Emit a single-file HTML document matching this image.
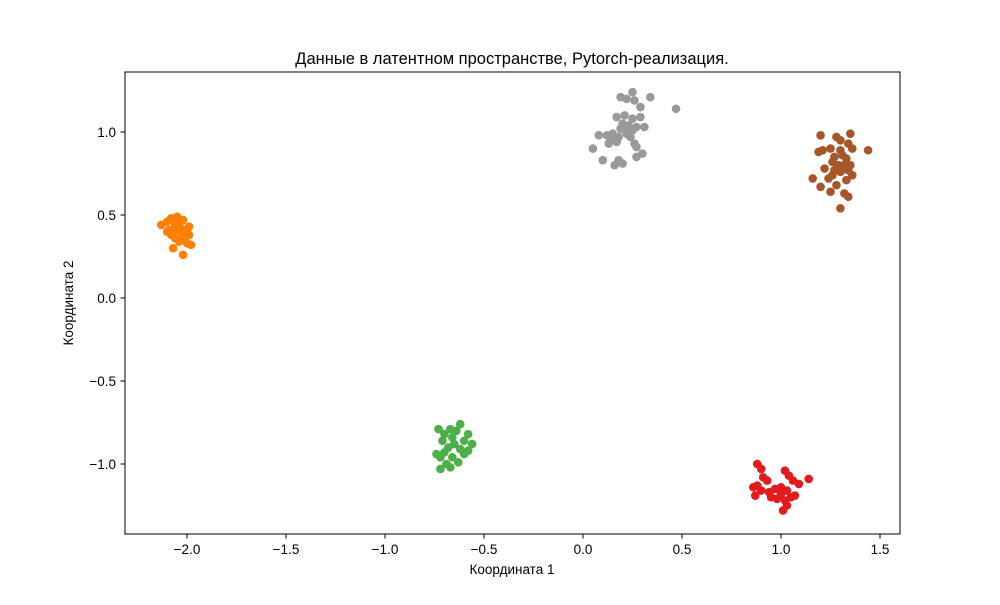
<!DOCTYPE html>
<html><head><meta charset="utf-8"><style>body{margin:0;background:#fff}svg text{font-family:"Liberation Sans","DejaVu Sans",sans-serif}</style></head>
<body>
<svg id="chart" width="1000" height="600">
<rect x="0" y="0" width="1000" height="600" fill="#fff"/>
<text x="512" y="64" text-anchor="middle" font-size="16.5">Данные в латентном пространстве, Pytorch-реализация.</text>
<g id="marks"></g>
<rect x="125" y="72" width="775" height="462" fill="none" stroke="#000" stroke-width="1"/>
<g id="axes"></g>
<text x="512" y="574" text-anchor="middle" font-size="13.5">Координата 1</text>
<text transform="translate(73,303) rotate(-90)" text-anchor="middle" font-size="13.5">Координата 2</text>
</svg>
<script>
const xTicks=[-2.0,-1.5,-1.0,-0.5,0.0,0.5,1.0,1.5];
const yTicks=[-1.0,-0.5,0.0,0.5,1.0];
const grayPts=[[0.25,1.24],[0.22,1.2],[0.19,1.21],[0.26,1.19],[0.34,1.21],[0.47,1.14],[0.29,1.15],[0.17,1.09],[0.21,1.1],[0.25,1.08],[0.29,1.09],[0.2,1.05],[0.23,1.04],[0.27,1.03],[0.31,1.03],[0.25,1.01],[0.12,0.98],[0.15,0.99],[0.18,0.97],[0.22,0.99],[0.19,1.02],[0.08,0.98],[0.14,0.96],[0.17,0.94],[0.13,0.93],[0.05,0.9],[0.26,0.93],[0.27,0.91],[0.3,0.87],[0.27,0.85],[0.1,0.83],[0.18,0.83],[0.2,0.81],[0.16,0.8],[0.22,1.0],[0.24,0.97]];
const brownPts=[[1.2,0.98],[1.28,0.97],[1.35,0.99],[1.3,0.95],[1.34,0.93],[1.25,0.9],[1.3,0.89],[1.36,0.9],[1.44,0.89],[1.19,0.88],[1.21,0.89],[1.27,0.85],[1.31,0.86],[1.33,0.84],[1.26,0.82],[1.29,0.8],[1.32,0.8],[1.35,0.8],[1.22,0.78],[1.27,0.77],[1.3,0.76],[1.34,0.77],[1.36,0.74],[1.26,0.74],[1.16,0.72],[1.33,0.71],[1.2,0.67],[1.28,0.68],[1.25,0.64],[1.32,0.63],[1.34,0.61],[1.3,0.54],[1.24,0.72]];
const redPts=[[0.88,-1.0],[0.9,-1.03],[0.91,-1.08],[0.93,-1.1],[0.88,-1.13],[0.86,-1.14],[0.9,-1.16],[0.94,-1.17],[0.87,-1.19],[0.97,-1.15],[1.0,-1.14],[1.02,-1.04],[1.04,-1.07],[1.06,-1.1],[1.09,-1.12],[1.14,-1.09],[1.0,-1.18],[1.03,-1.16],[1.05,-1.2],[1.07,-1.19],[0.98,-1.21],[1.02,-1.22],[1.03,-1.25],[1.01,-1.28],[0.95,-1.2]];
const greenPts=[[-0.73,-0.79],[-0.67,-0.79],[-0.62,-0.76],[-0.64,-0.8],[-0.7,-0.82],[-0.66,-0.84],[-0.71,-0.86],[-0.58,-0.82],[-0.6,-0.86],[-0.65,-0.88],[-0.68,-0.9],[-0.56,-0.88],[-0.62,-0.91],[-0.7,-0.93],[-0.74,-0.94],[-0.72,-0.96],[-0.66,-0.96],[-0.6,-0.94],[-0.63,-0.99],[-0.69,-1.0],[-0.72,-1.03],[-0.67,-1.02],[-0.58,-0.92]];
const orangePts=[[-2.08,0.48],[-2.05,0.49],[-2.1,0.46],[-2.02,0.47],[-2.13,0.44],[-1.99,0.43],[-2.06,0.44],[-2.03,0.42],[-2.09,0.41],[-2.0,0.41],[-2.05,0.4],[-2.08,0.38],[-2.02,0.37],[-1.99,0.38],[-2.06,0.36],[-2.04,0.34],[-2.0,0.33],[-1.98,0.32],[-2.07,0.3],[-2.02,0.26],[-2.1,0.4],[-2.04,0.45]];
const NS='http://www.w3.org/2000/svg';
function xs(v){return 583+v*198;}
function ys(v){return 298-v*166;}
const marks=document.getElementById('marks');
const groups=[[orangePts,'#ff7f00','orange'],[greenPts,'#4daf4a','green'],[redPts,'#e41a1c','red'],[grayPts,'#999999','gray'],[brownPts,'#a65628','brown']];
groups.forEach(g=>{g[0].forEach(p=>{
 const c=document.createElementNS(NS,'circle');
 c.setAttribute('cx',xs(p[0]));c.setAttribute('cy',ys(p[1]));c.setAttribute('r',4.3);c.setAttribute('fill',g[1]);
 
 
 marks.appendChild(c);});});
const axes=document.getElementById('axes');
function fmt(v){return (v<0?'\u2212':'')+Math.abs(v).toFixed(1);}
xTicks.forEach(v=>{
 const l=document.createElementNS(NS,'line');
 l.setAttribute('x1',xs(v));l.setAttribute('x2',xs(v));l.setAttribute('y1',534);l.setAttribute('y2',538.5);l.setAttribute('stroke','#000');
 
 
 axes.appendChild(l);
 const t=document.createElementNS(NS,'text');
 t.setAttribute('x',xs(v));t.setAttribute('y',554);t.setAttribute('text-anchor','middle');t.setAttribute('font-size','13.5');t.textContent=fmt(v);
 
 
 axes.appendChild(t);});
yTicks.forEach(v=>{
 const l=document.createElementNS(NS,'line');
 l.setAttribute('x1',120.5);l.setAttribute('x2',125);l.setAttribute('y1',ys(v));l.setAttribute('y2',ys(v));l.setAttribute('stroke','#000');
 
 
 axes.appendChild(l);
 const t=document.createElementNS(NS,'text');
 t.setAttribute('x',116);t.setAttribute('y',ys(v)+5);t.setAttribute('text-anchor','end');t.setAttribute('font-size','13.5');t.textContent=fmt(v);
 
 
 axes.appendChild(t);});
</script>
</body></html>
